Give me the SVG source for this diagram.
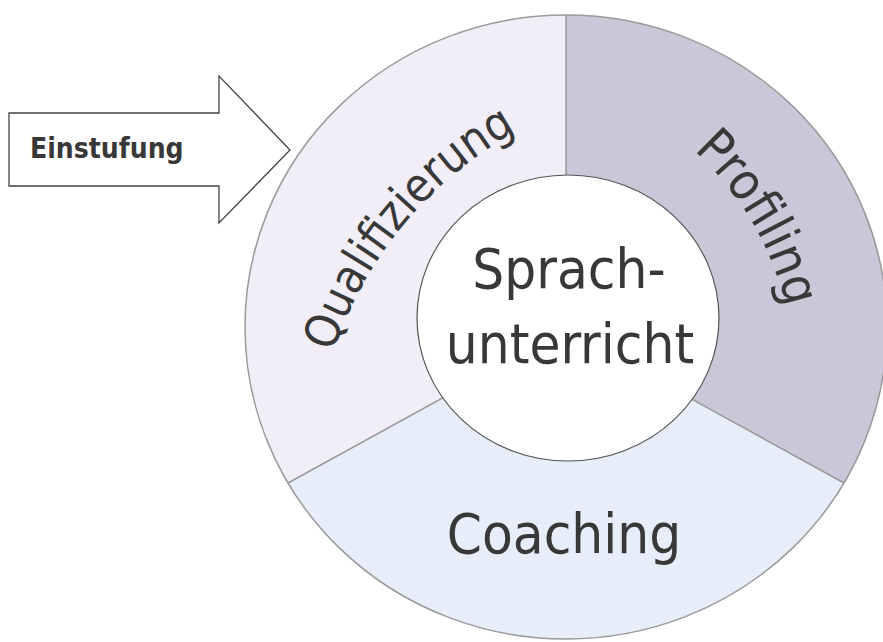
<svg xmlns="http://www.w3.org/2000/svg" width="883" height="642" viewBox="0 0 883 642">
<style>
.seg{stroke:none}
.txt{font-family:"DejaVu Sans Condensed","DejaVu Sans",sans-serif;font-stretch:condensed;fill:#383838}
.big{font-size:56px}
.div{stroke:#9a9a9a;stroke-width:1.5;fill:none}
</style>
<defs>
<path id="pQ" d="M 314.7,443.3 A 393 393 0 0 1 602.7,96.4"/>
<path id="pP" d="M 632.1,106.9 A 306 306 0 0 1 793.9,382.4"/>
</defs>
<rect width="883" height="642" fill="#ffffff"/>
<g id="qualifizierung">
<path class="seg" fill="#f2eef8" d="M566,330 L566,15 A321 312 0 0 0 288,483 Z"/>
<text class="txt" font-size="47"><textPath href="#pQ" startOffset="50%" text-anchor="middle">Qualifizierung</textPath></text>
</g>
<g id="profiling">
<path class="seg" fill="#c9c7d8" d="M566,330 L566,15 A321 312 0 0 1 844,483 Z"/>
<text class="txt" font-size="51"><textPath href="#pP" startOffset="50%" text-anchor="middle">Profiling</textPath></text>
</g>
<g id="coaching">
<path class="seg" fill="#e7edf9" d="M566,330 L288,483 A321 312 0 0 0 844,483 Z"/>
<text class="txt big" x="564" y="553" text-anchor="middle">Coaching</text>
</g>
<g id="connectors">
<ellipse class="div" cx="566" cy="327" rx="321" ry="312"/>
<path class="div" d="M566,15 L566,330 M288,483 L566,330 L844,483"/>
</g>
<g id="sprachunterricht">
<ellipse cx="568" cy="318" rx="151" ry="143" fill="#ffffff" stroke="#555" stroke-width="1.2"/>
<text class="txt big" text-anchor="middle"><tspan x="569" y="288">Sprach-</tspan><tspan x="570" y="363">unterricht</tspan></text>
</g>
<g id="einstufung">
<path d="M9,113 L219,113 L219,76 L290,150 L219,223 L219,186 L9,186 Z" fill="#ffffff" stroke="#444" stroke-width="1.3"/>
<text class="txt" x="30" y="158" font-size="28" font-weight="bold">Einstufung</text>
</g>
</svg>
